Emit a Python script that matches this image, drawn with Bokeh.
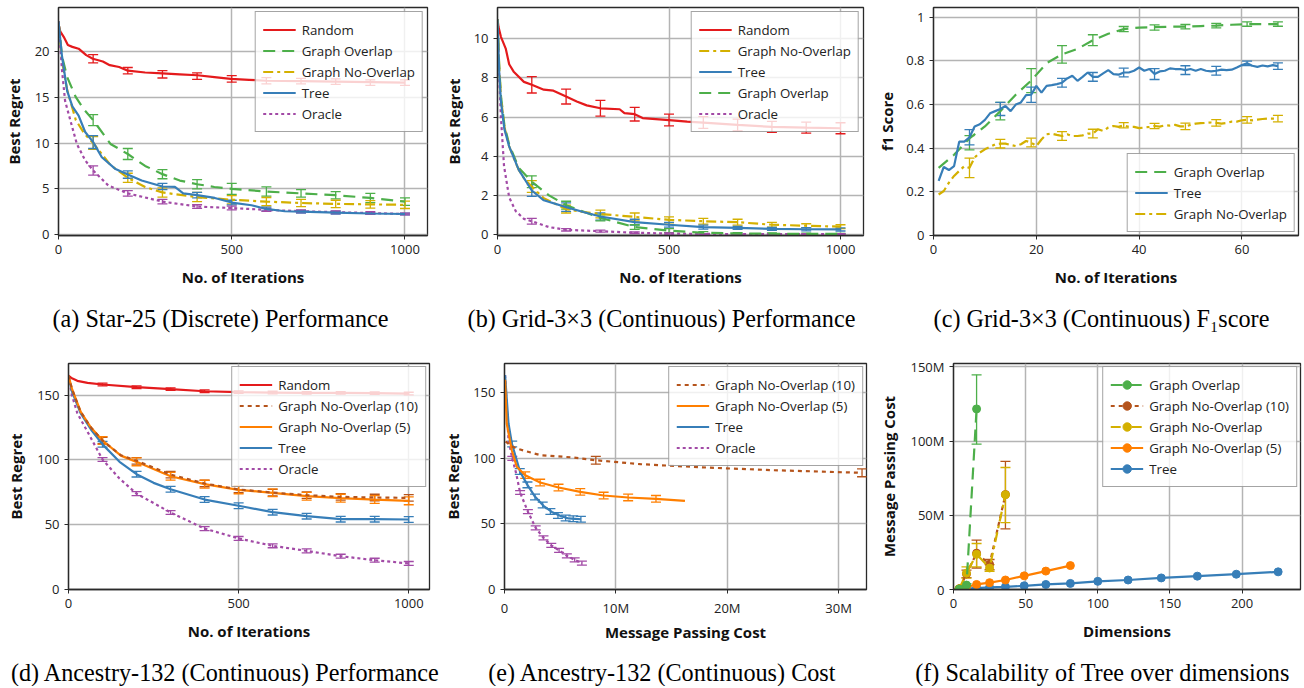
from bokeh.plotting import figure
from bokeh.models import (Range1d, FixedTicker, Legend, LegendItem, Whisker, TeeHead,
                          ColumnDataSource)
from bokeh.core.properties import value
from bokeh.layouts import row, column
from bokeh.embed import file_html
from bokeh.resources import INLINE

# ---------------- colours ----------------
C_RANDOM = "#e41a1c"
C_OVERLAP = "#4daf4a"
C_NOOVER = "#d4b000"
C_TREE = "#377eb8"
C_ORACLE = "#a24aa6"
C_NO10 = "#b5541c"
C_NO5 = "#ff7f00"

# ---------------- (a) Star-25 ----------------
A_RANDOM_X = [0, 5, 15, 27, 40, 58, 80, 99, 128, 148, 175, 200, 250, 300, 350, 401, 450, 497, 550, 600, 700, 800, 900, 1000]
A_RANDOM_Y = [23.0, 22.2, 21.6, 20.7, 20.5, 20.3, 19.6, 19.2, 18.9, 18.5, 18.3, 17.9, 17.7, 17.6, 17.5, 17.4, 17.2, 17.0, 16.9, 16.8, 16.75, 16.7, 16.65, 16.6]
A_OVERLAP_X = [0, 10, 25, 50, 75, 100, 150, 200, 250, 300, 350, 400, 450, 500, 600, 700, 800, 900, 1000]
A_OVERLAP_Y = [23.3, 19.5, 17.2, 15.0, 13.6, 12.5, 9.9, 8.8, 7.5, 6.6, 5.9, 5.5, 5.2, 5.0, 4.7, 4.5, 4.3, 4.0, 3.6]
A_NOOVER_X = [0, 10, 25, 50, 75, 100, 150, 200, 250, 300, 400, 500, 600, 700, 800, 900, 1000]
A_NOOVER_Y = [23.3, 19.0, 15.8, 12.5, 11.0, 10.0, 7.6, 6.2, 5.2, 4.6, 4.1, 3.8, 3.6, 3.45, 3.35, 3.3, 3.25]
A_TREE_X = [0, 10, 25, 40, 58, 77, 100, 125, 163, 200, 240, 300, 336, 360, 400, 451, 500, 557, 600, 653, 700, 800, 900, 1000]
A_TREE_Y = [23.3, 19.5, 15.7, 14.0, 13.0, 11.2, 10.1, 8.45, 7.2, 6.55, 5.9, 5.25, 5.2, 4.5, 4.3, 4.0, 3.5, 3.2, 2.8, 2.55, 2.5, 2.4, 2.3, 2.25]
A_ORACLE_X = [0, 10, 19, 34, 53, 77, 100, 144, 200, 300, 400, 500, 600, 700, 800, 900, 1000]
A_ORACLE_Y = [23.3, 18.0, 14.6, 12.5, 9.9, 8.1, 7.0, 5.35, 4.5, 3.6, 3.06, 2.9, 2.7, 2.55, 2.45, 2.35, 2.25]
A_ERR_X = [100, 200, 300, 400, 500, 600, 700, 800, 900, 1000]
A_RANDOM_EY = [19.2, 17.9, 17.5, 17.3, 17.0, 16.8, 16.75, 16.7, 16.6, 16.6]
A_RANDOM_EH = [0.45, 0.35, 0.4, 0.35, 0.35, 0.35, 0.3, 0.3, 0.3, 0.3]
A_OVERLAP_EY = [12.5, 8.8, 6.6, 5.5, 5.0, 4.7, 4.5, 4.3, 4.0, 3.6]
A_OVERLAP_EH = [0.6, 0.6, 0.5, 0.5, 0.6, 0.5, 0.4, 0.4, 0.5, 0.4]
A_NOOVER_EY = [10.0, 6.2, 4.6, 4.1, 3.8, 3.6, 3.45, 3.35, 3.3, 3.25]
A_NOOVER_EH = [0.7, 0.5, 0.5, 0.5, 0.45, 0.45, 0.4, 0.4, 0.4, 0.4]
A_TREE_EY = [10.1, 6.55, 5.25, 4.3, 3.5, 2.8, 2.5, 2.4, 2.3, 2.25]
A_TREE_EH = [0.7, 0.4, 0.35, 0.3, 0.25, 0.2, 0.15, 0.15, 0.1, 0.1]
A_ORACLE_EY = [7.0, 4.5, 3.6, 3.06, 2.9, 2.7, 2.55, 2.45, 2.35, 2.25]
A_ORACLE_EH = [0.5, 0.3, 0.25, 0.2, 0.2, 0.15, 0.15, 0.15, 0.15, 0.1]

# ---------------- (b) Grid-3x3 ----------------
B_RANDOM_X = [0, 3, 10, 24, 34, 48, 77, 100, 135, 163, 200, 231, 260, 300, 356, 370, 400, 423, 500, 553, 600, 700, 800, 900, 1000]
B_RANDOM_Y = [11.0, 10.6, 10.1, 9.5, 8.7, 8.3, 7.8, 7.65, 7.4, 7.35, 7.05, 6.8, 6.6, 6.45, 6.4, 6.2, 6.15, 5.95, 5.85, 5.77, 5.72, 5.6, 5.5, 5.46, 5.43]
B_NOOVER_X = [0, 5, 10, 20, 34, 50, 62, 80, 100, 135, 200, 250, 300, 400, 500, 600, 700, 800, 900, 1000]
B_NOOVER_Y = [11.0, 8.5, 7.0, 5.5, 4.5, 3.8, 3.3, 2.8, 2.45, 1.85, 1.3, 1.15, 1.05, 0.9, 0.75, 0.68, 0.63, 0.5, 0.45, 0.4]
B_TREE_X = [0, 5, 10, 20, 34, 62, 100, 135, 200, 250, 300, 400, 500, 600, 700, 800, 900, 1000]
B_TREE_Y = [11.0, 8.3, 6.8, 5.4, 4.5, 3.3, 2.25, 1.75, 1.4, 1.15, 0.92, 0.63, 0.5, 0.38, 0.34, 0.29, 0.27, 0.26]
B_OVERLAP_X = [0, 5, 10, 20, 34, 62, 100, 150, 200, 300, 400, 500, 600, 700, 800, 900, 1000]
B_OVERLAP_Y = [11.0, 8.6, 7.1, 5.6, 4.6, 3.4, 2.7, 2.0, 1.5, 0.85, 0.38, 0.2, 0.09, 0.05, 0.04, 0.03, 0.03]
B_ORACLE_X = [0, 5, 10, 19, 34, 53, 77, 100, 150, 200, 300, 400, 500, 600, 700, 800, 900, 1000]
B_ORACLE_Y = [11.0, 8.0, 6.0, 3.5, 1.9, 1.2, 0.8, 0.68, 0.38, 0.24, 0.17, 0.09, 0.05, 0.03, 0.02, 0.02, 0.02, 0.02]
B_ERR_X = [100, 200, 300, 400, 500, 600, 700, 800, 900, 1000]
B_RANDOM_EY = [7.65, 7.05, 6.45, 6.15, 5.85, 5.72, 5.6, 5.5, 5.46, 5.43]
B_RANDOM_EH = [0.42, 0.38, 0.4, 0.35, 0.3, 0.3, 0.3, 0.28, 0.28, 0.28]
B_NOOVER_EY = [2.45, 1.3, 1.05, 0.9, 0.75, 0.68, 0.63, 0.5, 0.45, 0.4]
B_NOOVER_EH = [0.3, 0.2, 0.2, 0.2, 0.15, 0.15, 0.15, 0.12, 0.1, 0.1]
B_TREE_EY = [2.25, 1.4, 0.92, 0.63, 0.5, 0.38, 0.34, 0.29, 0.27, 0.26]
B_TREE_EH = [0.3, 0.22, 0.18, 0.15, 0.12, 0.1, 0.08, 0.08, 0.08, 0.08]
B_OVERLAP_EY = [2.7, 1.5, 0.85, 0.38, 0.2, 0.09, 0.05, 0.04, 0.03, 0.03]
B_OVERLAP_EH = [0.3, 0.2, 0.15, 0.12, 0.1, 0.06, 0.05, 0.04, 0.04, 0.03]
B_ORACLE_EY = [0.68, 0.24, 0.17, 0.09, 0.05, 0.03, 0.02, 0.02, 0.02, 0.02]
B_ORACLE_EH = [0.15, 0.06, 0.05, 0.04, 0.03, 0.02, 0.02, 0.02, 0.02, 0.02]

# ---------------- (c) Grid-3x3 F1 score ----------------
C_ITER = list(range(1, 68))
C_OVERLAP_X = [1, 4, 7, 10, 13, 16, 19, 22, 25, 28, 31, 34, 37, 40, 43, 46, 49, 52, 55, 58, 61, 64, 67]
C_OVERLAP_Y = [0.31, 0.37, 0.445, 0.5, 0.57, 0.645, 0.71, 0.79, 0.83, 0.855, 0.895, 0.925, 0.946, 0.953, 0.955, 0.957, 0.957, 0.96, 0.962, 0.966, 0.969, 0.969, 0.969]
C_TREE_Y = [0.25, 0.314, 0.30, 0.318, 0.43, 0.43, 0.45, 0.50, 0.51, 0.53, 0.56, 0.57, 0.58, 0.594, 0.57,
            0.60, 0.61, 0.643, 0.645, 0.686, 0.655, 0.686, 0.689, 0.694, 0.70, 0.72, 0.732, 0.709, 0.727, 0.747,
            0.727, 0.727, 0.743, 0.758, 0.74, 0.737, 0.747, 0.747, 0.755, 0.77, 0.755, 0.763, 0.74, 0.752, 0.755,
            0.766, 0.763, 0.763, 0.758, 0.763, 0.755, 0.763, 0.755, 0.752, 0.755, 0.76, 0.758, 0.76, 0.77, 0.781,
            0.789, 0.778, 0.773, 0.779, 0.775, 0.781, 0.776]
C_NOOVER_Y = [0.188, 0.204, 0.242, 0.273, 0.296, 0.318, 0.31, 0.357, 0.38, 0.395, 0.406, 0.418, 0.421, 0.421, 0.415,
              0.41, 0.418, 0.433, 0.426, 0.41, 0.44, 0.464, 0.467, 0.461, 0.456, 0.464, 0.456, 0.456, 0.459, 0.467,
              0.467, 0.487, 0.479, 0.495, 0.502, 0.498, 0.505, 0.498, 0.498, 0.492, 0.495, 0.498, 0.502, 0.499, 0.505,
              0.504, 0.507, 0.5, 0.5, 0.507, 0.513, 0.515, 0.516, 0.518, 0.516, 0.513, 0.516, 0.522, 0.522, 0.528,
              0.53, 0.528, 0.531, 0.534, 0.536, 0.536, 0.536]
C_ERR_X = [7, 13, 19, 25, 31, 37, 43, 49, 55, 61, 67]
C_OVERLAP_EY = [0.425, 0.57, 0.71, 0.83, 0.895, 0.946, 0.953, 0.957, 0.962, 0.969, 0.969]
C_OVERLAP_EH = [0.033, 0.04, 0.055, 0.04, 0.025, 0.012, 0.012, 0.01, 0.01, 0.01, 0.01]
C_TREE_EY = [0.45, 0.58, 0.645, 0.70, 0.727, 0.747, 0.74, 0.758, 0.755, 0.789, 0.776]
C_TREE_EH = [0.035, 0.03, 0.035, 0.02, 0.02, 0.02, 0.025, 0.02, 0.02, 0.01, 0.015]
C_NOOVER_EY = [0.31, 0.421, 0.426, 0.456, 0.467, 0.505, 0.502, 0.5, 0.516, 0.53, 0.536]
C_NOOVER_EH = [0.045, 0.02, 0.02, 0.02, 0.02, 0.012, 0.012, 0.015, 0.015, 0.015, 0.015]

# ---------------- (d) Ancestry-132 performance ----------------
D_RANDOM_X = [0, 10, 26, 56, 100, 200, 300, 400, 500, 600, 700, 800, 900, 1000]
D_RANDOM_Y = [165, 163, 161, 159.5, 158.2, 156.1, 154.6, 153, 152.3, 152, 151.7, 151.7, 151.5, 151.2]
D_NO_X = [0, 10, 36, 66, 100, 154, 200, 300, 400, 500, 600, 700, 800, 900, 1000]
D_NO10_Y = [165, 155, 137, 125, 115, 103.6, 99.3, 88.7, 81.8, 77.2, 74.8, 72.8, 71.5, 71, 70.7]
D_NO5_Y = [165, 155, 137, 125, 115, 103.3, 98.5, 87.4, 81.3, 76.9, 74.6, 72, 70.5, 69.4, 68.4]
D_TREE_X = [0, 10, 36, 66, 100, 150, 200, 250, 300, 400, 500, 600, 700, 800, 900, 1000]
D_TREE_Y = [165, 153, 135.8, 123.5, 112, 98.5, 89, 82.3, 77.4, 69.4, 64.6, 59.7, 56.6, 54.3, 54.3, 54]
D_ORACLE_X = [0, 10, 26, 56, 100, 150, 200, 300, 400, 500, 600, 700, 800, 900, 1000]
D_ORACLE_Y = [165, 150, 136, 121.7, 100.3, 85.6, 74, 59.4, 47, 39.4, 33.7, 29.8, 25.7, 22.6, 20.1]
D_ERR_X = [100, 200, 300, 400, 500, 600, 700, 800, 900, 1000]
D_RANDOM_EY = [158.2, 156.1, 154.6, 153, 152.3, 152, 151.7, 151.7, 151.5, 151.2]
D_NO10_EY = [115, 99.3, 88.7, 81.8, 77.2, 74.8, 72.8, 71.5, 71, 70.7]
D_NO5_EY = [115, 98.5, 87.4, 81.3, 76.9, 74.6, 72, 70.5, 69.4, 68.4]
D_TREE_EY = [112, 89, 77.4, 69.4, 64.6, 59.7, 56.6, 54.3, 54.3, 54]
D_ORACLE_EY = [100.3, 74, 59.4, 47, 39.4, 33.7, 29.8, 25.7, 22.6, 20.1]
D_RANDOM_EH = 1.0
D_NO10_EH = 2.5
D_NO5_EH = 3.0
D_TREE_EH = 2.2
D_ORACLE_EH = 1.5

# ---------------- (e) Ancestry-132 cost (message passing cost, millions) ----------------
E_NO10_X = [0.1, 0.5, 1.1, 3.2, 6.2, 8.2, 12.2, 18.2, 24.2, 32.1]
E_NO10_Y = [113, 110, 107.5, 102.5, 100.7, 98.6, 95.6, 93, 91, 89]
E_NO10_EX = [8.2, 32.1]
E_NO10_EY = [98.6, 89]
E_NO5_X = [0.05, 0.2, 0.66, 1.1, 1.86, 3.2, 4.85, 6.8, 8.9, 11.1, 13.6, 16.2]
E_NO5_Y = [160, 126.6, 106, 93.6, 87.2, 81.6, 77.8, 74.5, 71.7, 70.2, 69.2, 67.6]
E_NO5_EX = [1.86, 3.2, 4.85, 6.8, 8.9, 11.1, 13.6]
E_NO5_EY = [87.2, 81.6, 77.8, 74.5, 71.7, 70.2, 69.2]
E_TREE_X = [0.05, 0.36, 0.66, 0.96, 1.4, 2.07, 2.75, 3.5, 4.25, 5.0, 5.75, 6.35, 6.86]
E_TREE_Y = [163.5, 126.6, 111.4, 102.5, 89.8, 79.6, 70.7, 63.8, 59.2, 56.2, 54.2, 53.9, 53.6]
E_TREE_EX = [0.69, 1.37, 2.06, 2.74, 3.43, 4.12, 4.8, 5.49, 6.17, 6.86]
E_TREE_EY = [111, 90, 79.8, 70.5, 64.5, 59.5, 56.5, 54.5, 54, 53.6]
E_ORACLE_X = [0.05, 0.36, 0.7, 1.05, 1.4, 2.1, 2.8, 3.5, 4.2, 4.9, 5.6, 6.3, 6.95]
E_ORACLE_Y = [163.5, 114, 100, 88.5, 74, 59.4, 47, 39.4, 33.7, 29.8, 25.7, 22.6, 20.1]
E_ORACLE_EX = [0.7, 1.4, 2.1, 2.8, 3.5, 4.2, 4.9, 5.6, 6.3, 6.95]
E_ORACLE_EY = [100, 74, 59.4, 47, 39.4, 33.7, 29.8, 25.7, 22.6, 20.1]

# ---------------- (f) scalability (cost in millions) ----------------
F_TREE_DIM = [4, 9, 16, 25, 36, 49, 64, 81, 100, 121, 144, 169, 196, 225]
F_TREE_COST = [0.4, 0.7, 0.9, 1.4, 1.8, 2.5, 3.4, 4.1, 5.5, 6.4, 7.8, 9.0, 10.3, 11.9]
F_NO5_DIM = [4, 9, 16, 25, 36, 49, 64, 81]
F_NO5_COST = [0.5, 1.8, 3.4, 4.6, 6.4, 9.2, 12.4, 16.1]
F_NO_DIM = [4, 9, 16, 25, 36]
F_NO_COST = [0.5, 11.0, 23.7, 14.5, 63.9]
F_NO_LO = [0.3, 7.6, 15.2, 12.2, 45.0]
F_NO_HI = [0.7, 15.2, 31.0, 16.8, 82.2]
F_NO10_DIM = [4, 9, 16, 25, 36]
F_NO10_COST = [0.5, 10.5, 24.5, 17.0, 64.0]
F_NO10_LO = [0.3, 8.0, 14.5, 13.3, 40.9]
F_NO10_HI = [0.7, 13.0, 33.3, 20.2, 86.4]
F_OVERLAP_DIM = [4, 9, 16]
F_OVERLAP_COST = [0.3, 3.0, 121.7]
F_OVERLAP_LO = [0.2, 2.0, 97.9]
F_OVERLAP_HI = [0.4, 4.0, 144.7]

# ---------------- captions ----------------
CAPTIONS_TOP = ["(a) Star-25 (Discrete) Performance",
                "(b) Grid-3\u00d73 (Continuous) Performance",
                "(c) Grid-3\u00d73 (Continuous) F\u2081score"]
CAPTIONS_BOTTOM = ["(d) Ancestry-132 (Continuous) Performance",
                   "(e) Ancestry-132 (Continuous) Cost",
                   "(f) Scalability of Tree over dimensions"]
CAPTION_X_TOP = [220, 661, 1101]
CAPTION_X_BOTTOM = [225, 662, 1102]

FONT = "Open Sans"
DASH_OVERLAP = "12 7"
DASH_NOOVER = "10 4 3 4"
DASH_ORACLE = "3 3"
DASH_NO10 = "4 4"
TOTAL_W = 1302


def make_fig(w, h, bl, br, bt, bb, xr, yr):
    p = figure(width=w, height=h, x_range=Range1d(*xr), y_range=Range1d(*yr),
               output_backend="svg", toolbar_location=None,
               min_border_left=bl, min_border_right=br, min_border_top=bt, min_border_bottom=bb)
    p.title.visible = False
    p.outline_line_color = "#2a2a2a"
    p.outline_line_width = 1.3
    p.background_fill_color = "white"
    p.border_fill_color = "white"
    p.grid.grid_line_color = "#b4b4b4"
    p.grid.grid_line_width = 1.5
    for ax in (p.xaxis[0], p.yaxis[0]):
        ax.major_tick_out = 4
        ax.major_tick_in = 0
        ax.minor_tick_out = 0
        ax.minor_tick_in = 0
        ax.axis_line_color = "#2a2a2a"
        ax.axis_line_width = 1.3
        ax.major_tick_line_color = "#2a2a2a"
        ax.major_label_text_font = FONT
        ax.major_label_text_font_size = "13px"
        ax.major_label_text_color = "#222222"
        ax.major_label_standoff = 5
        ax.axis_label_text_font = FONT
        ax.axis_label_text_font_size = "15px"
        ax.axis_label_text_font_style = "bold"
        ax.axis_label_text_color = "#111111"
    return p


def set_ticks(axis, ticks, labels, label, standoff):
    axis.ticker = FixedTicker(ticks=ticks)
    axis.major_label_overrides = {t: l for t, l in zip(ticks, labels)}
    axis.axis_label = label
    axis.axis_label_standoff = standoff


def add_line(p, x, y, color, dash="solid"):
    return p.line(x, y, line_color=color, line_width=2.2, line_dash=dash, line_cap="butt")


def add_err_lohi(p, src, color):
    w = Whisker(base="base", upper="upper", lower="lower", source=src, dimension="height",
                line_color=color, line_width=1.3,
                upper_head=TeeHead(size=10, line_color=color, line_width=1.3),
                lower_head=TeeHead(size=10, line_color=color, line_width=1.3))
    p.add_layout(w)


def add_err(p, x, y, half, color):
    if not isinstance(half, list):
        half = [half] * len(x)
    src = ColumnDataSource(dict(base=x, upper=[a + b for a, b in zip(y, half)],
                                lower=[a - b for a, b in zip(y, half)]))
    add_err_lohi(p, src, color)


def add_legend(p, items, location, margin):
    lg = Legend(items=[LegendItem(label=l, renderers=r) for l, r in items], location=location,
                label_text_font=FONT, label_text_font_size="13.3px", label_text_color="#222222",
                glyph_width=33, glyph_height=21, label_height=21, spacing=0, padding=7,
                margin=margin, label_standoff=6, border_line_color="#4a4a4a", border_line_width=1.2,
                background_fill_color="white", background_fill_alpha=0.8)
    p.add_layout(lg)


def caption_fig(h, xs, texts, yc):
    p = figure(width=TOTAL_W, height=h, x_range=Range1d(0, TOTAL_W), y_range=Range1d(0, h),
               output_backend="svg", toolbar_location=None, min_border=0,
               x_axis_location=None, y_axis_location=None)
    p.title.visible = False
    p.outline_line_color = None
    p.grid.visible = False
    p.text(x=xs, y=[yc] * len(xs), text=texts, text_align="center", text_baseline="middle",
           text_font=value("Liberation Serif"), text_font_size="24.2px", text_color="black")
    return p


TOP_H, BOT_H = 300, 318
XLAB_STANDOFF = 10

# ---------- (a) ----------
pa = make_fig(440, TOP_H, 57, 13, 7, 65, (0, 1065), (-0.1, 24.8))
set_ticks(pa.xaxis[0], [0, 500, 1000], ["0", "500", "1000"], "No. of Iterations", XLAB_STANDOFF)
set_ticks(pa.yaxis[0], [0, 5, 10, 15, 20], ["0", "5", "10", "15", "20"], "Best Regret", 8)
ra1 = add_line(pa, A_RANDOM_X, A_RANDOM_Y, C_RANDOM)
ra2 = add_line(pa, A_OVERLAP_X, A_OVERLAP_Y, C_OVERLAP, DASH_OVERLAP)
ra3 = add_line(pa, A_NOOVER_X, A_NOOVER_Y, C_NOOVER, DASH_NOOVER)
ra5 = add_line(pa, A_ORACLE_X, A_ORACLE_Y, C_ORACLE, DASH_ORACLE)
ra4 = add_line(pa, A_TREE_X, A_TREE_Y, C_TREE)
add_err(pa, A_ERR_X, A_RANDOM_EY, A_RANDOM_EH, C_RANDOM)
add_err(pa, A_ERR_X, A_OVERLAP_EY, A_OVERLAP_EH, C_OVERLAP)
add_err(pa, A_ERR_X, A_NOOVER_EY, A_NOOVER_EH, C_NOOVER)
add_err(pa, A_ERR_X, A_TREE_EY, A_TREE_EH, C_TREE)
add_err(pa, A_ERR_X, A_ORACLE_EY, A_ORACLE_EH, C_ORACLE)
add_legend(pa, [("Random", [ra1]), ("Graph Overlap", [ra2]), ("Graph No-Overlap", [ra3]),
                ("Tree", [ra4]), ("Oracle", [ra5])], "top_right", 4)

# ---------- (b) ----------
pb = make_fig(430, TOP_H, 53, 7, 7, 65, (0, 1067), (-0.05, 11.6))
set_ticks(pb.xaxis[0], [0, 500, 1000], ["0", "500", "1000"], "No. of Iterations", XLAB_STANDOFF)
set_ticks(pb.yaxis[0], [0, 2, 4, 6, 8, 10], ["0", "2", "4", "6", "8", "10"], "Best Regret", 7)
rb1 = add_line(pb, B_RANDOM_X, B_RANDOM_Y, C_RANDOM)
rb5 = add_line(pb, B_ORACLE_X, B_ORACLE_Y, C_ORACLE, DASH_ORACLE)
rb4 = add_line(pb, B_OVERLAP_X, B_OVERLAP_Y, C_OVERLAP, DASH_OVERLAP)
rb2 = add_line(pb, B_NOOVER_X, B_NOOVER_Y, C_NOOVER, DASH_NOOVER)
rb3 = add_line(pb, B_TREE_X, B_TREE_Y, C_TREE)
add_err(pb, B_ERR_X, B_RANDOM_EY, B_RANDOM_EH, C_RANDOM)
add_err(pb, B_ERR_X, B_NOOVER_EY, B_NOOVER_EH, C_NOOVER)
add_err(pb, B_ERR_X, B_TREE_EY, B_TREE_EH, C_TREE)
add_err(pb, B_ERR_X, B_OVERLAP_EY, B_OVERLAP_EH, C_OVERLAP)
add_err(pb, B_ERR_X, B_ORACLE_EY, B_ORACLE_EH, C_ORACLE)
add_legend(pb, [("Random", [rb1]), ("Graph No-Overlap", [rb2]), ("Tree", [rb3]),
                ("Graph Overlap", [rb4]), ("Oracle", [rb5])], "top_right", 4)

# ---------- (c) ----------
pc = make_fig(432, TOP_H, 63, 4, 7, 65, (0, 71), (0, 1.045))
set_ticks(pc.xaxis[0], [0, 20, 40, 60], ["0", "20", "40", "60"], "No. of Iterations", XLAB_STANDOFF)
set_ticks(pc.yaxis[0], [0, 0.2, 0.4, 0.6, 0.8, 1], ["0", "0.2", "0.4", "0.6", "0.8", "1"], "f1 Score", 6)
rc1 = add_line(pc, C_OVERLAP_X, C_OVERLAP_Y, C_OVERLAP, DASH_OVERLAP)
rc3 = add_line(pc, C_ITER, C_NOOVER_Y, C_NOOVER, DASH_NOOVER)
rc2 = add_line(pc, C_ITER, C_TREE_Y, C_TREE)
add_err(pc, C_ERR_X, C_OVERLAP_EY, C_OVERLAP_EH, C_OVERLAP)
add_err(pc, C_ERR_X, C_TREE_EY, C_TREE_EH, C_TREE)
add_err(pc, C_ERR_X, C_NOOVER_EY, C_NOOVER_EH, C_NOOVER)
add_legend(pc, [("Graph Overlap", [rc1]), ("Tree", [rc2]), ("Graph No-Overlap", [rc3])], "bottom_right", 3)

# ---------- (d) ----------
pd_ = make_fig(440, BOT_H, 68, 11, 27, 65, (0, 1061), (0, 174.4))
set_ticks(pd_.xaxis[0], [0, 500, 1000], ["0", "500", "1000"], "No. of Iterations", XLAB_STANDOFF)
set_ticks(pd_.yaxis[0], [0, 50, 100, 150], ["0", "50", "100", "150"], "Best Regret", 8)
rd1 = add_line(pd_, D_RANDOM_X, D_RANDOM_Y, C_RANDOM)
rd5 = add_line(pd_, D_ORACLE_X, D_ORACLE_Y, C_ORACLE, DASH_ORACLE)
rd4 = add_line(pd_, D_TREE_X, D_TREE_Y, C_TREE)
rd3 = add_line(pd_, D_NO_X, D_NO5_Y, C_NO5)
rd2 = add_line(pd_, D_NO_X, D_NO10_Y, C_NO10, DASH_NO10)
add_err(pd_, D_ERR_X, D_RANDOM_EY, D_RANDOM_EH, C_RANDOM)
add_err(pd_, D_ERR_X, D_NO10_EY, D_NO10_EH, C_NO10)
add_err(pd_, D_ERR_X, D_NO5_EY, D_NO5_EH, C_NO5)
add_err(pd_, D_ERR_X, D_TREE_EY, D_TREE_EH, C_TREE)
add_err(pd_, D_ERR_X, D_ORACLE_EY, D_ORACLE_EH, C_ORACLE)
add_legend(pd_, [("Random", [rd1]), ("Graph No-Overlap (10)", [rd2]), ("Graph No-Overlap (5)", [rd3]),
                 ("Tree", [rd4]), ("Oracle", [rd5])], "top_right", 3)

# ---------- (e) ----------
pe = make_fig(430, BOT_H, 64, 4, 27, 65, (0, 32.5), (0, 172.4))
set_ticks(pe.xaxis[0], [0, 10, 20, 30], ["0", "10M", "20M", "30M"], "Message Passing Cost", 2)
set_ticks(pe.yaxis[0], [0, 50, 100, 150], ["0", "50", "100", "150"], "Best Regret", 7)
re4 = add_line(pe, E_ORACLE_X, E_ORACLE_Y, C_ORACLE, DASH_ORACLE)
re3 = add_line(pe, E_TREE_X, E_TREE_Y, C_TREE)
re2 = add_line(pe, E_NO5_X, E_NO5_Y, C_NO5)
re1 = add_line(pe, E_NO10_X, E_NO10_Y, C_NO10, DASH_NO10)
add_err(pe, E_NO10_EX, E_NO10_EY, 3.0, C_NO10)
add_err(pe, E_NO5_EX, E_NO5_EY, 2.5, C_NO5)
add_err(pe, E_TREE_EX, E_TREE_EY, 2.2, C_TREE)
add_err(pe, E_ORACLE_EX, E_ORACLE_EY, 1.5, C_ORACLE)
add_legend(pe, [("Graph No-Overlap (10)", [re1]), ("Graph No-Overlap (5)", [re2]),
                ("Tree", [re3]), ("Oracle", [re4])], "top_right", 3)

# ---------- (f) ----------
pf = make_fig(432, BOT_H, 83, 2, 27, 65, (0, 240.5), (0, 152.3))
set_ticks(pf.xaxis[0], [0, 50, 100, 150, 200], ["0", "50", "100", "150", "200"], "Dimensions", XLAB_STANDOFF)
set_ticks(pf.yaxis[0], [0, 50, 100, 150], ["0", "50M", "100M", "150M"], "Message Passing Cost", 9)


def line_pts(p, x, y, color, dash="solid"):
    l = p.line(x, y, line_color=color, line_width=2.2, line_dash=dash, line_cap="butt")
    s = p.scatter(x, y, size=8, fill_color=color, line_color=color)
    return [l, s]


rf5 = line_pts(pf, F_TREE_DIM, F_TREE_COST, C_TREE)
rf4 = line_pts(pf, F_NO5_DIM, F_NO5_COST, C_NO5)
rf2 = line_pts(pf, F_NO10_DIM, F_NO10_COST, C_NO10, DASH_NO10)
rf3 = line_pts(pf, F_NO_DIM, F_NO_COST, C_NOOVER, DASH_NOOVER)
rf1 = line_pts(pf, F_OVERLAP_DIM, F_OVERLAP_COST, C_OVERLAP, DASH_OVERLAP)
add_err_lohi(pf, ColumnDataSource(dict(base=F_NO10_DIM, upper=F_NO10_HI, lower=F_NO10_LO)), C_NO10)
add_err_lohi(pf, ColumnDataSource(dict(base=F_NO_DIM, upper=F_NO_HI, lower=F_NO_LO)), C_NOOVER)
add_err_lohi(pf, ColumnDataSource(dict(base=F_OVERLAP_DIM, upper=F_OVERLAP_HI, lower=F_OVERLAP_LO)), C_OVERLAP)
add_legend(pf, [("Graph Overlap", rf1), ("Graph No-Overlap (10)", rf2), ("Graph No-Overlap", rf3),
                ("Graph No-Overlap (5)", rf4), ("Tree", rf5)], "top_right", 3)

cap_top = caption_fig(36, CAPTION_X_TOP, CAPTIONS_TOP, 18)
cap_bottom = caption_fig(32, CAPTION_X_BOTTOM, CAPTIONS_BOTTOM, 14)

layout = column(row(pa, pb, pc), cap_top, row(pd_, pe, pf), cap_bottom)
open("out.html", "w").write(file_html(layout, INLINE))
